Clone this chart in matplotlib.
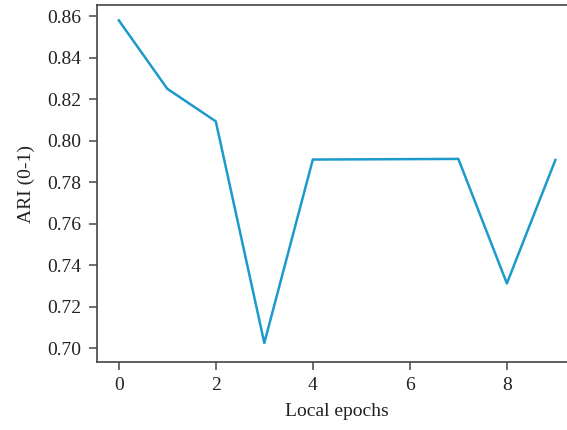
import matplotlib
matplotlib.use("Agg")
import matplotlib.pyplot as plt

epochs = [0, 1, 2, 3, 4, 5, 6, 7, 8, 9]
ari = [0.858, 0.825, 0.8093, 0.7025, 0.7909, 0.791, 0.7911, 0.7912, 0.7312, 0.7907]
yticks = [0.70, 0.72, 0.74, 0.76, 0.78, 0.80, 0.82, 0.84, 0.86]
xticks = [0, 2, 4, 6, 8]

plt.rcParams['font.family'] = ['Liberation Serif', 'DejaVu Serif']

fig = plt.figure(figsize=(5.67, 4.30), dpi=100)
ax = fig.add_axes([0.171, 0.158, 0.847, 0.830])
ax.plot(epochs, ari, color='#1b9acb', linewidth=1.8)
ax.set_xlim(-0.45, 9.45)
ax.set_ylim(0.6933, 0.8653)
ax.set_xticks(xticks)
ax.set_yticks(yticks)
ax.set_yticklabels([f"{v:.2f}" for v in yticks])
for s in ax.spines.values():
    s.set_color('#444444')
    s.set_linewidth(1.2)
ax.tick_params(direction='out', length=6, width=1.2, color='#555555', labelsize=14, labelcolor='#222222', pad=5)
ax.set_xlabel('Local epochs', fontsize=14, color='#222222', labelpad=6)
ax.set_ylabel('ARI (0-1)', fontsize=14, color='#222222', labelpad=9)
fig.savefig('out.png', dpi=100)
